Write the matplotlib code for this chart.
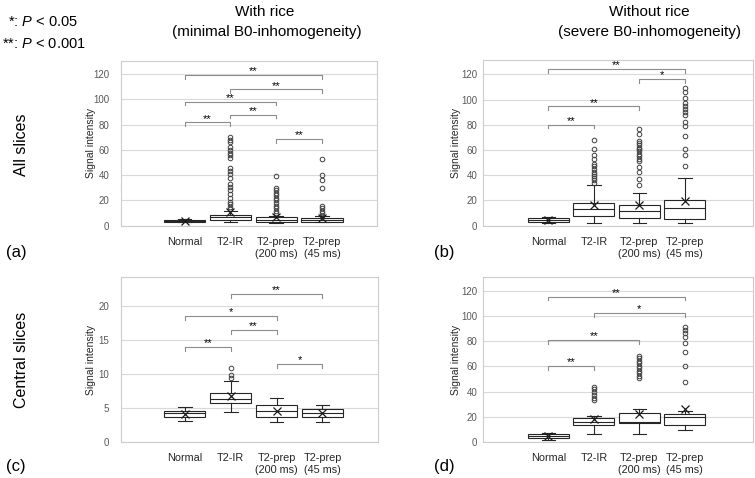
import matplotlib
matplotlib.use('Agg')
import matplotlib.pyplot as plt

plt.rcParams['font.family'] = ['Liberation Sans', 'DejaVu Sans']
plt.rcParams['mathtext.fontset'] = 'custom'
plt.rcParams['mathtext.it'] = 'Liberation Sans:italic'
plt.rcParams['mathtext.rm'] = 'Liberation Sans'

categories = ["Normal", "T2-IR", "T2-prep\n(200 ms)", "T2-prep\n(45 ms)"]

# (a) with rice, all slices
a_q1 = [3.2, 4.8, 2.9, 3.2]
a_med = [4.0, 6.7, 4.8, 4.5]
a_q3 = [4.6, 8.5, 6.6, 5.8]
a_lo = [2.8, 2.6, 2.5, 2.6]
a_hi = [5.5, 11.4, 8.0, 7.4]
a_mean = [4.0, 10.6, 7.0, 5.8]
a_out = [[],
         [70, 68, 66, 62, 60, 58, 56, 54, 46, 43, 41, 38, 33, 31, 28, 25, 22, 19, 17, 15, 13],
         [39, 30, 28, 26, 24, 22, 20, 18, 16, 14, 12, 10],
         [53, 40, 36, 30, 16, 14, 12, 10, 8]]
a_sig = [(0, 3, 119.5, "**"), (1, 3, 108, "**"), (0, 2, 98.3, "**"),
         (1, 2, 88, "**"), (0, 1, 81.9, "**"), (2, 3, 68.9, "**")]

# (b) without rice, all slices
b_q1 = [2.6, 7.7, 6.1, 5.6]
b_med = [4.5, 13.2, 11.4, 14.0]
b_q3 = [6.1, 17.7, 16.7, 20.4]
b_lo = [2.0, 2.4, 1.9, 2.4]
b_hi = [7.2, 32.3, 25.7, 37.6]
b_mean = [4.5, 16.4, 16.2, 19.3]
b_out = [[],
         [68, 61, 56, 53, 49, 47, 45, 43, 41, 39.5, 37.5, 36, 34],
         [76.5, 72.5, 67, 65.5, 64, 62, 60.5, 59, 57, 55, 53, 51, 46.5, 42.5, 37, 32],
         [109, 106, 101, 97, 95, 93, 90.5, 87.5, 82.5, 79, 71, 60.5, 56.5, 47.5]]
b_sig = [(0, 3, 124.2, "**"), (2, 3, 116.3, "*"), (0, 2, 94.6, "**"), (0, 1, 80.3, "**")]

# (c) with rice, central slices
c_q1 = [3.77, 5.82, 3.67, 3.77]
c_med = [4.25, 6.4, 4.55, 4.35]
c_q3 = [4.65, 7.19, 5.43, 4.84]
c_lo = [3.13, 4.5, 3.03, 3.03]
c_hi = [5.23, 9.05, 6.5, 5.48]
c_mean = [4.1, 6.8, 4.65, 4.35]
c_out = [[], [11.0, 9.9, 9.5], [], []]
c_sig = [(1, 3, 21.9, "**"), (0, 2, 18.6, "*"), (1, 2, 16.5, "**"),
         (0, 1, 14.0, "**"), (2, 3, 11.5, "*")]

# (d) without rice, central slices
d_q1 = [2.9, 13.2, 14.8, 13.5]
d_med = [4.8, 16.1, 16.1, 19.6]
d_q3 = [6.6, 18.8, 23.0, 22.2]
d_lo = [1.9, 6.6, 6.3, 9.3]
d_hi = [7.4, 20.4, 25.9, 24.6]
d_mean = [4.5, 18.2, 22.2, 26.2]
d_out = [[],
         [44, 42, 39.5, 37, 35, 33.5],
         [68.5, 66.5, 64.5, 62.5, 60.5, 58.5, 56.5, 54.5, 52.5, 50.5],
         [91.5, 89, 86.5, 83.5, 78.5, 71.5, 60.5, 48]]
d_sig = [(0, 3, 115.5, "**"), (1, 3, 102.3, "*"), (0, 2, 81.2, "**"), (0, 1, 60.5, "**")]

W, H = 755, 478
fig = plt.figure(figsize=(W / 100, H / 100), dpi=100)


def px_axes(l, t, r, b):
    return fig.add_axes([l / W, 1 - b / H, (r - l) / W, (b - t) / H])


def draw_panel(ax, q1, med, q3, lo, hi, mean, out, sig, ylim, yticks, xlim, drop, pad, labx):
    stats = []
    for i in range(len(categories)):
        stats.append(dict(q1=q1[i], med=med[i], q3=q3[i], whislo=lo[i], whishi=hi[i],
                          mean=mean[i], fliers=out[i]))
    pos = list(range(len(categories)))
    ax.bxp(stats, positions=pos, widths=0.9, capwidths=0.3, patch_artist=True,
           showmeans=True,
           boxprops=dict(facecolor='white', edgecolor='#262626', linewidth=0.8),
           medianprops=dict(color='#262626', linewidth=0.8),
           whiskerprops=dict(color='#262626', linewidth=0.8),
           capprops=dict(color='#262626', linewidth=0.8),
           meanprops=dict(marker='x', markeredgecolor='#1a1a1a', markersize=6,
                          markeredgewidth=0.9),
           flierprops=dict(marker='o', markerfacecolor='none', markeredgecolor='#404040',
                           markersize=3.3, markeredgewidth=0.7))
    for i, j, y, s in sig:
        ax.plot([i, i, j, j], [y - drop, y, y, y - drop], color='#8c8c8c', lw=0.8)
        ax.text((i + j) / 2, y + drop * 0.2, s, ha='center', va='baseline', fontsize=8)
    ax.set_xlim(*xlim)
    ax.set_ylim(*ylim)
    ax.set_yticks(yticks)
    ax.set_yticklabels([str(v) for v in yticks])
    ax.set_xticks(pos)
    ax.set_xticklabels(categories, fontsize=7.8, color='#262626', linespacing=1.25)
    ax.tick_params(axis='y', labelsize=7, labelcolor='#595959', length=0, pad=pad)
    ax.tick_params(axis='x', length=0, pad=8)
    ax.grid(axis='y', color='#d9d9d9', lw=0.8)
    ax.set_axisbelow(True)
    for sp in ax.spines.values():
        sp.set_color('#cccccc')
        sp.set_linewidth(0.8)
    ax.set_ylabel("Signal intensity", fontsize=7.5, color='#262626')
    ax.yaxis.set_label_coords(labx, 0.5)


ax_a = px_axes(120.5, 61, 377, 225.7)
ax_b = px_axes(483, 60, 753, 225.7)
ax_c = px_axes(120.5, 277.3, 377.5, 442.3)
ax_d = px_axes(483, 277, 753, 442)

draw_panel(ax_a, a_q1, a_med, a_q3, a_lo, a_hi, a_mean, a_out, a_sig,
           (0, 130.5), range(0, 121, 20), (-1.4, 4.2), 3, 8, -0.097)
draw_panel(ax_b, b_q1, b_med, b_q3, b_lo, b_hi, b_mean, b_out, b_sig,
           (0, 131.5), range(0, 121, 20), (-1.44, 4.5), 3, 4, -0.082)
draw_panel(ax_c, c_q1, c_med, c_q3, c_lo, c_hi, c_mean, c_out, c_sig,
           (0, 24.3), range(0, 21, 5), (-1.4, 4.2), 0.6, 8, -0.097)
draw_panel(ax_d, d_q1, d_med, d_q3, d_lo, d_hi, d_mean, d_out, d_sig,
           (0, 131), range(0, 121, 20), (-1.44, 4.5), 3, 4, -0.082)


def ftext(x, y, s, **kw):
    fig.text(x / W, 1 - y / H, s, **kw)


ftext(265, 12, "With rice", ha='center', va='center', fontsize=11)
ftext(267, 32, "(minimal B0-inhomogeneity)", ha='center', va='center', fontsize=11)
ftext(649, 12, "Without rice", ha='center', va='center', fontsize=11)
ftext(650, 32, "(severe B0-inhomogeneity)", ha='center', va='center', fontsize=11)
ftext(8, 22, "*: $P$ < 0.05", ha='left', va='center', fontsize=10.5)
ftext(2, 44, "**: $P$ < 0.001", ha='left', va='center', fontsize=10.5)
ftext(22, 145, "All slices", ha='center', va='center', rotation=90, fontsize=11.5)
ftext(22, 360, "Central slices", ha='center', va='center', rotation=90, fontsize=11.5)
ftext(16, 253, "(a)", ha='center', va='center', fontsize=12)
ftext(444, 253, "(b)", ha='center', va='center', fontsize=12)
ftext(16, 467, "(c)", ha='center', va='center', fontsize=12)
ftext(444, 467, "(d)", ha='center', va='center', fontsize=12)

plt.savefig("out.png", dpi=100)
